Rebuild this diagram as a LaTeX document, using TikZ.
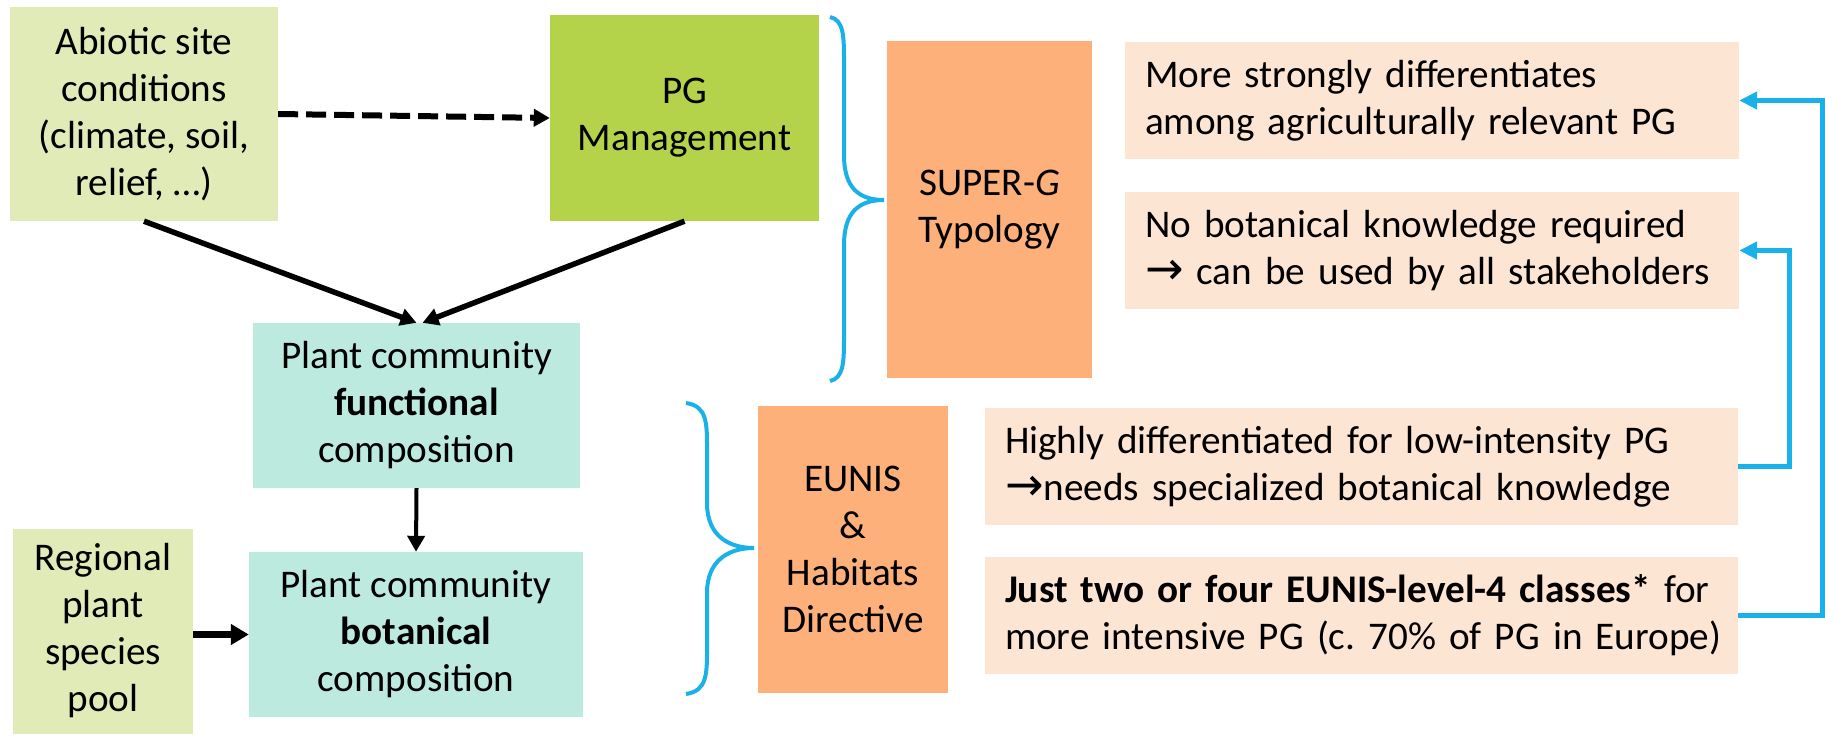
\documentclass[tikz,border=0pt]{standalone}
\usepackage{fontspec}
\setmainfont{Carlito}
\newfontfamily\symfont{DejaVu Sans}
\usetikzlibrary{arrows.meta}
\definecolor{lgreen}{RGB}{224,235,183}
\definecolor{dgreen}{RGB}{181,211,74}
\definecolor{mint}{RGB}{189,234,223}
\definecolor{orng}{RGB}{253,176,122}
\definecolor{peach}{RGB}{253,229,211}
\definecolor{bblue}{RGB}{26,176,232}
\newcommand\mybrace[6]{%
 \draw[bracestyle] (#1,#4) .. controls (#2,#4+3) and (#2,#4+20) .. (#2,#4+45) -- (#2,#5-45) .. controls (#2,#5-12) and (#3-25,#5) .. (#3,#5) .. controls (#3-25,#5) and (#2,#5+12) .. (#2,#5+45) -- (#2,#6-45) .. controls (#2,#6-20) and (#2,#6-3) .. (#1,#6);}
\newcommand\arr{{\symfont\fontsize{46}{47}\selectfont →}}
\tikzset{
 txt/.style={font=\fontsize{39.2}{47}\selectfont},
 cbox/.style={txt, align=center, inner sep=0pt},
 lbox/.style={txt, align=left, inner xsep=20pt, inner ysep=0pt, fill=peach},
 blk/.style={line width=5.5pt, -{Triangle[length=16pt,width=17pt]}},
 bl/.style={draw=bblue, line width=5pt, -{Triangle[length=18pt,width=17pt]}},
 bracestyle/.style={draw=bblue, line width=4pt},
}
\begin{document}
\begin{tikzpicture}[x=1pt,y=-1pt]
\useasboundingbox (0,0) rectangle (1825,736);
\node[cbox, fill=lgreen, minimum width=268pt, minimum height=214pt] (abiotic) at (144,114) {Abiotic site\\conditions\\(climate, soil,\\relief, …)};
\node[cbox, fill=dgreen, minimum width=269pt, minimum height=206pt] (pg) at (684.5,118) {PG\\Management};
\node[cbox, fill=mint, minimum width=327pt, minimum height=165pt] (func) at (416.5,405.5) {Plant community\\\textbf{functional}\\composition};
\node[cbox, fill=mint, minimum width=334pt, minimum height=165pt] (bot) at (416,634.5) {Plant community\\\textbf{botanical}\\composition};
\node[cbox, fill=lgreen, minimum width=180pt, minimum height=205pt] (pool) at (103,631) {Regional\\plant\\species\\pool};
\node[cbox, fill=orng, minimum width=205pt, minimum height=337pt] (superg) at (989.5,209.5) {SUPER-\textit{G}\\Typology};
\node[cbox, fill=orng, minimum width=190pt, minimum height=287pt] (eunis) at (853,549.5) {EUNIS\\\&\\Habitats\\Directive};
\node[lbox, text width=574pt, minimum height=117pt] (more) at (1432,100.5) {\mbox{More strongly differentiates}\\\mbox{among agriculturally relevant PG}};
\node[lbox, text width=574pt, minimum height=117pt] (nobot) at (1432,250.5) {\mbox{No botanical knowledge required}\\\mbox{\arr{} can be used by all stakeholders}};
\node[lbox, text width=713pt, minimum height=117pt] (highly) at (1361.5,466.5) {\mbox{Highly differentiated for low-intensity PG}\\\mbox{\arr{}needs specialized botanical knowledge}};
\node[lbox, text width=713pt, minimum height=117pt] (just) at (1361.5,615.5) {\mbox{\textbf{Just two or four EUNIS-level-4 classes*} for}\\\mbox{more intensive PG (c.\ 70\% of PG in Europe)}};
\mybrace{830}{844}{884}{17}{200}{381}
\mybrace{686}{707}{754}{403}{548}{694}
\draw[blk, line width=6pt, dash pattern=on 20pt off 8pt] (abiotic.east) -- (pg.west);
\draw[blk] (abiotic.south) -- (func.north);
\draw[blk] (pg.south) -- ([xshift=6pt]func.north);
\draw[blk, line width=4pt] (func.south) -- (bot.north);
\draw[line width=7pt, -{Triangle[length=18pt,width=20pt]}] (pool.east |- bot.west) -- (bot.west);
\draw[bl] (highly.east) -- ++(51,0) |- (nobot.east);
\draw[bl] (just.east) -- ++(84,0) |- (more.east);
\end{tikzpicture}
\end{document}
